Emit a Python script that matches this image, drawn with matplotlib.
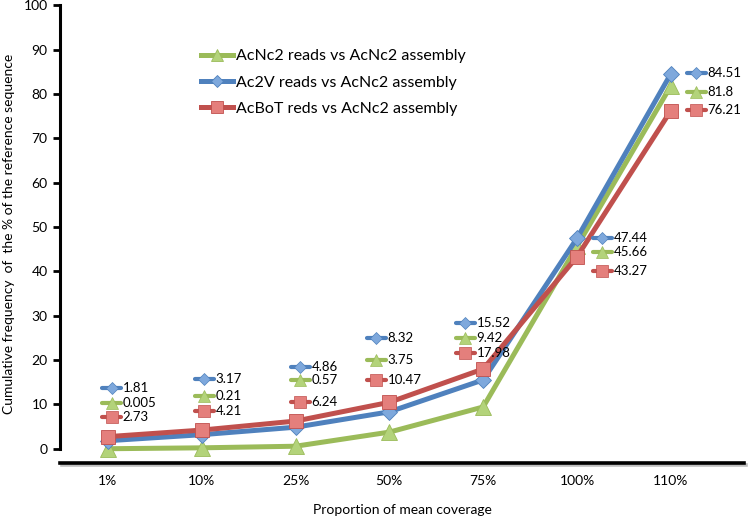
import matplotlib.pyplot as plt
import matplotlib.patheffects as pe

plt.rcParams['font.family'] = ['Lato', 'DejaVu Sans']

categories = ['1%', '10%', '25%', '50%', '75%', '100%', '110%']
acnc2 = [0.005, 0.21, 0.57, 3.75, 9.42, 45.66, 81.8]
ac2v = [1.81, 3.17, 4.86, 8.32, 15.52, 47.44, 84.51]
acbot = [2.73, 4.21, 6.24, 10.47, 17.98, 43.27, 76.21]
value_text_acnc2 = ['0.005', '0.21', '0.57', '3.75', '9.42', '45.66', '81.8']
value_text_ac2v = ['1.81', '3.17', '4.86', '8.32', '15.52', '47.44', '84.51']
value_text_acbot = ['2.73', '4.21', '6.24', '10.47', '17.98', '43.27', '76.21']

# where excel put the data labels (y in axis units, x shift in categories)
lab_dx = [0.04, 0.03, 0.05, -0.14, -0.19, 0.27, 0.27]
lab_y_ac2v = [13.7, 15.8, 18.5, 25.0, 28.4, 47.5, 84.7]
lab_y_acnc2 = [10.4, 11.9, 15.5, 20.0, 25.0, 44.4, 80.4]
lab_y_acbot = [7.2, 8.6, 10.6, 15.5, 21.6, 40.1, 76.4]

series = [
    ('AcNc2 reads vs AcNc2 assembly', acnc2, value_text_acnc2, lab_y_acnc2, '#9bbb59', '#b3d37a', '^', 11),
    ('Ac2V reads vs AcNc2 assembly', ac2v, value_text_ac2v, lab_y_ac2v, '#4f81bd', '#7ea8dc', 'D', 8),
    ('AcBoT reds vs AcNc2 assembly', acbot, value_text_acbot, lab_y_acbot, '#c0504d', '#e47f7c', 's', 10),
]

fig = plt.figure(figsize=(7.5, 5.19), dpi=100)
ax = fig.add_axes([0.08, 0.108, 0.912, 0.882])

x = list(range(len(categories)))
draw_order = [1, 0, 2]
handles = {}
for k in draw_order:
    name, vals, txt, laby, col, fill, mk, ms = series[k]
    ln, = ax.plot(x, vals, color=col, lw=3.6, marker=mk, markersize=ms,
                  markerfacecolor=fill, markeredgecolor=col, markeredgewidth=0.6,
                  label=name, zorder=3 + k)
    handles[k] = ln
    for i in x:
        kx = i + lab_dx[i]
        ax.plot([kx - 0.1, kx + 0.1], [laby[i], laby[i]], color=col, lw=3.0,
                solid_capstyle='round', clip_on=False, zorder=6)
        ax.plot([kx], [laby[i]], marker=mk, markersize=ms * 0.8, color=fill,
                markeredgecolor=col, markeredgewidth=0.5, clip_on=False, zorder=7)
        ax.text(kx + 0.12, laby[i], txt[i], fontsize=9.5, va='center', ha='left',
                color='black', zorder=8)

ax.set_xlim(-0.51, 6.78)
ax.set_ylim(-3.2, 100)
ax.set_yticks(range(0, 101, 10))
ax.set_xticks(x)
ax.set_xticklabels(categories)
ax.tick_params(axis='x', length=0, pad=9, labelsize=10)
ax.tick_params(axis='y', direction='out', length=5, width=2, labelsize=10, pad=4)

ax.spines['top'].set_visible(False)
ax.spines['right'].set_visible(False)
ax.spines['left'].set_bounds(0, 100)
ax.spines['left'].set_linewidth(2.2)
ax.spines['bottom'].set_linewidth(2.6)
ax.spines['bottom'].set_path_effects([pe.SimpleLineShadow(offset=(1.5, -1.5), shadow_color='gray', alpha=0.5), pe.Normal()])

ax.set_xlabel('Proportion of mean coverage', fontsize=10, labelpad=12)
ax.set_ylabel('Cumulative frequency  of  the % of the reference sequence', fontsize=10, labelpad=6)

leg = ax.legend([handles[0], handles[1], handles[2]],
                [series[0][0], series[1][0], series[2][0]],
                loc='upper left', bbox_to_anchor=(0.185, 0.935), frameon=False,
                fontsize=11.5, handlelength=2.0, handletextpad=0.2, labelspacing=0.75,
                markerscale=0.8)

fig.savefig('out.png', dpi=100)
